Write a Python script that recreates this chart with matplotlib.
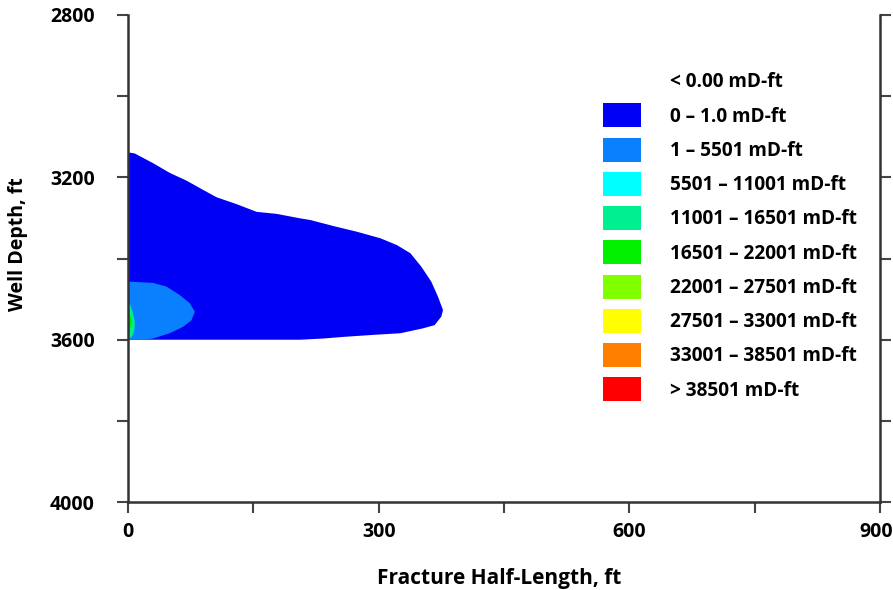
import matplotlib
matplotlib.use("Agg")
import matplotlib.pyplot as plt
import matplotlib.transforms as mtransforms
from matplotlib.patches import Patch
from matplotlib.ticker import MultipleLocator

plt.rcParams['font.family'] = ['Open Sans', 'DejaVu Sans']
plt.rcParams['font.weight'] = 'bold'

# contour outlines (x: half-length ft, y: depth ft)
blue_x = [0, 2, 8, 30, 50, 70, 90, 106, 130, 154, 178, 206, 218, 246, 274, 302, 322,
          338, 351, 363, 371, 377, 375, 367, 353, 326, 294, 258, 234, 206, 0]
blue_depth = [3139, 3139, 3141, 3165, 3189, 3208, 3231, 3249, 3266, 3285, 3290, 3301,
              3305, 3320, 3334, 3350, 3367, 3387, 3420, 3457, 3494, 3527, 3543, 3564,
              3572, 3584, 3588, 3593, 3597, 3600, 3600]

lblue_x = [0, 2, 30, 46, 62, 74, 80, 76, 66, 50, 30, 20, 0]
lblue_depth = [3457, 3457, 3460, 3469, 3490, 3510, 3531, 3552, 3568, 3584, 3597, 3600, 3600]

teal_x = [0, 3, 6, 8, 8, 6, 3, 0]
teal_depth = [3506, 3515, 3535, 3555, 3572, 3588, 3596, 3596]

green_x = [0, 3, 5, 4, 2, 0]
green_depth = [3532, 3540, 3552, 3565, 3575, 3580]

legend_labels = ["< 0.00 mD-ft", "0 \u2013 1.0 mD-ft", "1 \u2013 5501 mD-ft",
                 "5501 \u2013 11001 mD-ft", "11001 \u2013 16501 mD-ft",
                 "16501 \u2013 22001 mD-ft", "22001 \u2013 27501 mD-ft",
                 "27501 \u2013 33001 mD-ft", "33001 \u2013 38501 mD-ft",
                 "> 38501 mD-ft"]
legend_colors = ["#ffffff", "#0000f5", "#0a80ff", "#00ffff", "#00f090",
                 "#00f000", "#80ff00", "#ffff00", "#ff8000", "#ff0000"]

fig = plt.figure(figsize=(8.93, 5.90), dpi=100)
ax = fig.add_axes([0.1433, 0.149, 0.8422, 0.8256])

ax.fill(blue_x, blue_depth, color=legend_colors[1], lw=0)
ax.fill(lblue_x, lblue_depth, color=legend_colors[2], lw=0)
ax.fill(teal_x, teal_depth, color=legend_colors[4], lw=0)
ax.fill(green_x, green_depth, color=legend_colors[5], lw=0)

ax.set_xlim(0, 900)
ax.set_ylim(4000, 2800)
ax.set_xticks([0, 300, 600, 900])
ax.set_yticks([2800, 3200, 3600, 4000])
ax.xaxis.set_minor_locator(MultipleLocator(150))
ax.yaxis.set_minor_locator(MultipleLocator(200))

ax.spines['top'].set_visible(False)
for s in ['left', 'bottom', 'right']:
    ax.spines[s].set_color('#333333')
    ax.spines[s].set_linewidth(1.8)

ax.tick_params(axis='both', which='both', direction='out', length=8, width=1.5,
               color='#444444')
ax.tick_params(axis='y', which='both', right=True, pad=16)
ax.tick_params(axis='x', which='both', pad=6)
ax.tick_params(labelsize=14)

# nudge the last x label so it stays inside the picture
shift = mtransforms.ScaledTranslation(-4 / 100, 0, fig.dpi_scale_trans)
last = ax.get_xticklabels()[-1]
last.set_transform(last.get_transform() + shift)

ax.set_xlabel("Fracture Half-Length, ft", fontsize=15, fontweight='bold')
ax.xaxis.set_label_coords(0.493, -0.135)
ax.set_ylabel("Well Depth, ft", fontsize=14, fontweight='bold')
ax.yaxis.set_label_coords(-0.133, 0.53)

handles = [Patch(facecolor=c, edgecolor='none') for c in legend_colors]
ax.legend(handles, legend_labels, loc='upper left', bbox_to_anchor=(0.6316, 0.889),
          frameon=False, handlelength=2.0, handleheight=1.566,
          labelspacing=0.537, handletextpad=1.53, borderpad=0, borderaxespad=0,
          prop={'weight': 'bold', 'size': 13.7})

fig.savefig("out.png", dpi=100)
